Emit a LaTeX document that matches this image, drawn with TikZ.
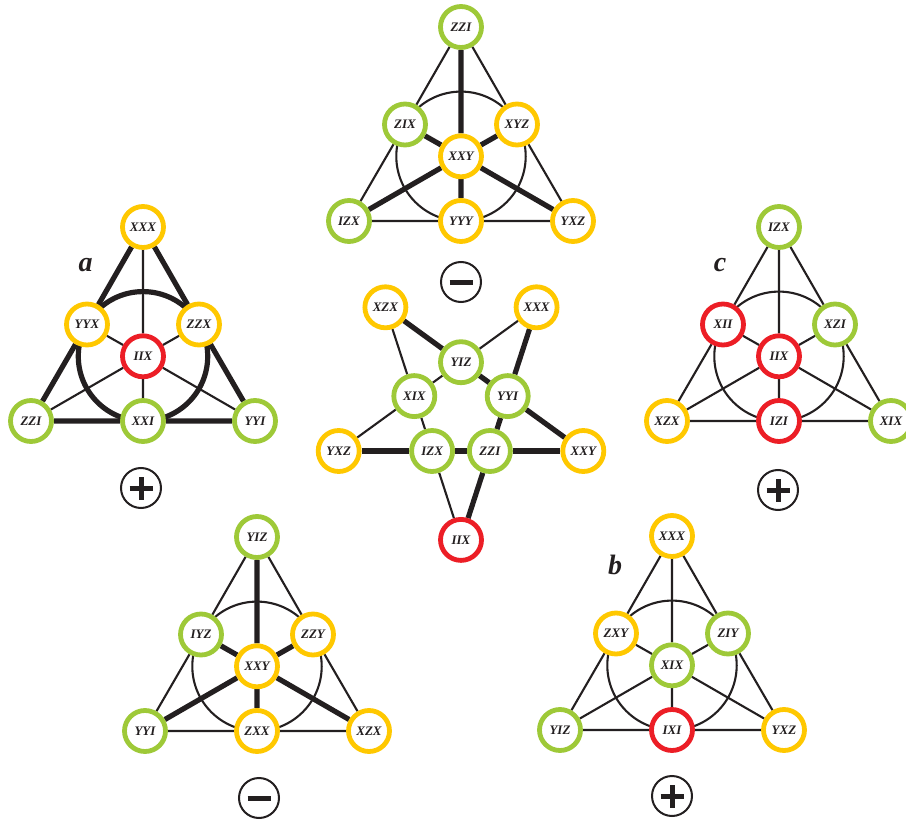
\documentclass[tikz,border=0pt]{standalone}
\usepackage{fontspec}
\setmainfont{Liberation Serif}
\usetikzlibrary{backgrounds}
\definecolor{cg}{RGB}{158,201,56}
\definecolor{cy}{RGB}{255,200,0}
\definecolor{cr}{RGB}{236,30,38}
\definecolor{ink}{RGB}{35,31,32}
\tikzset{
  nd/.style={circle, fill=white, line width=4.8pt, minimum size=41pt, inner sep=0pt,
             text=ink, font=\fontsize{13}{13}\selectfont\bfseries\itshape},
  G/.style={nd, draw=cg}, Y/.style={nd, draw=cy}, R/.style={nd, draw=cr},
  pT/.style={at={(0,0)}}, pML/.style={at={(-56,97.5)}}, pMR/.style={at={(56,97.5)}},
  pC/.style={at={(0,129.3)}}, pL/.style={at={(-112,194)}}, pMB/.style={at={(0,194)}},
  pR/.style={at={(112,194)}},
  thn/.style={line width=2.1pt, draw=ink},
  thk/.style={line width=5.2pt, draw=ink},
  sgn/.style={circle, draw=ink, line width=2pt, minimum size=40pt, inner sep=0pt},
  bar/.style={line width=5pt, draw=ink},
  lab/.style={font=\fontsize{28}{28}\selectfont\bfseries\itshape, text=ink, inner sep=0pt, anchor=base}
}
\newcommand\triedges[4]{%
  \draw[#2] (#1T) -- (#1ML) (#1ML) -- (#1L) (#1L) -- (#1MB) (#1MB) -- (#1R)
            (#1R) -- (#1MR) (#1MR) -- (#1T);
  \draw[#3] (#1T) -- (#1C) (#1C) -- (#1MB) (#1L) -- (#1C) (#1C) -- (#1MR)
            (#1R) -- (#1C) (#1C) -- (#1ML);
  \draw[#4] (#1C.center) circle[radius=64.7];}
\begin{document}
\begin{tikzpicture}[x=1pt,y=-1pt]
\useasboundingbox (0,0) rectangle (906,824);

% ---- top triangle
\begin{scope}[shift={(461,27)}]
\node[G,pT] (tT) {ZZI}; \node[G,pML] (tML) {ZIX}; \node[Y,pMR] (tMR) {XYZ};
\node[Y,pC] (tC) {XXY}; \node[G,pL] (tL) {IZX}; \node[Y,pMB] (tMB) {YYY};
\node[Y,pR] (tR) {YXZ};
\end{scope}

% ---- left triangle (a)
\begin{scope}[shift={(143,227)}]
\node[Y,pT] (aT) {XXX}; \node[Y,pML] (aML) {YYX}; \node[Y,pMR] (aMR) {ZZX};
\node[R,pC] (aC) {IIX}; \node[G,pL] (aL) {ZZI}; \node[G,pMB] (aMB) {XXI};
\node[G,pR] (aR) {YYI};
\end{scope}

% ---- right triangle (c)
\begin{scope}[shift={(779,227)}]
\node[G,pT] (cT) {IZX}; \node[R,pML] (cML) {XII}; \node[G,pMR] (cMR) {XZI};
\node[R,pC] (cC) {IIX}; \node[Y,pL] (cL) {XZX}; \node[R,pMB] (cMB) {IZI};
\node[G,pR] (cR) {XIX};
\end{scope}

% ---- bottom-left triangle
\begin{scope}[shift={(257,537)}]
\node[G,pT] (dT) {YIZ}; \node[G,pML] (dML) {IYZ}; \node[Y,pMR] (dMR) {ZZY};
\node[Y,pC] (dC) {XXY}; \node[G,pL] (dL) {YYI}; \node[Y,pMB] (dMB) {ZXX};
\node[Y,pR] (dR) {XZX};
\end{scope}

% ---- bottom-right triangle (b)
\begin{scope}[shift={(672,536)}]
\node[Y,pT] (bT) {XXX}; \node[Y,pML] (bML) {ZXY}; \node[G,pMR] (bMR) {ZIY};
\node[G,pC] (bC) {XIX}; \node[G,pL] (bL) {YIZ}; \node[R,pMB] (bMB) {IXI};
\node[Y,pR] (bR) {YXZ};
\end{scope}

% ---- pentagram
\node[Y] (pXZX) at (385.4,307.3) {XZX};
\node[Y] (pXXX) at (536.6,307.3) {XXX};
\node[Y] (pYXZ) at (338.7,451.0) {YXZ};
\node[Y] (pXXY) at (583.3,451.0) {XXY};
\node[R] (pIIX) at (461,539.9) {IIX};
\node[G] (pYIZ) at (461,362.2) {YIZ};
\node[G] (pXIX) at (414.3,396.1) {XIX};
\node[G] (pYYI) at (507.7,396.1) {YYI};
\node[G] (pIZX) at (432.1,451.0) {IZX};
\node[G] (pZZI) at (489.9,451.0) {ZZI};

\begin{pgfonlayer}{background}
  \triedges{t}{thn}{thk}{thn}
  \triedges{a}{thk}{thn}{thk}
  \triedges{c}{thn}{thn}{thn}
  \triedges{d}{thn}{thk}{thn}
  \triedges{b}{thn}{thn}{thn}
  \draw[thk] (pXZX) -- (pYIZ) (pYIZ) -- (pYYI) (pYYI) -- (pXXY);
  \draw[thn] (pXXX) -- (pYIZ) (pYIZ) -- (pXIX) (pXIX) -- (pYXZ);
  \draw[thk] (pXXX) -- (pYYI) (pYYI) -- (pZZI) (pZZI) -- (pIIX);
  \draw[thn] (pXZX) -- (pXIX) (pXIX) -- (pIZX) (pIZX) -- (pIIX);
  \draw[thk] (pYXZ) -- (pIZX) (pIZX) -- (pZZI) (pZZI) -- (pXXY);
\end{pgfonlayer}

% ---- signs
\node[sgn] (s1) at (461,282) {};
\draw[bar] ([xshift=-11.5pt]s1.center) -- ([xshift=11.5pt]s1.center);
\node[sgn] (s2) at (141,488) {};
\draw[bar] ([xshift=-11.5pt]s2.center) -- ([xshift=11.5pt]s2.center);
\draw[bar] ([yshift=-11.5pt]s2.center) -- ([yshift=11.5pt]s2.center);
\node[sgn] (s3) at (778,490) {};
\draw[bar] ([xshift=-11.5pt]s3.center) -- ([xshift=11.5pt]s3.center);
\draw[bar] ([yshift=-11.5pt]s3.center) -- ([yshift=11.5pt]s3.center);
\node[sgn] (s4) at (259,798) {};
\draw[bar] ([xshift=-11.5pt]s4.center) -- ([xshift=11.5pt]s4.center);
\node[sgn] (s5) at (672,796) {};
\draw[bar] ([xshift=-11.5pt]s5.center) -- ([xshift=11.5pt]s5.center);
\draw[bar] ([yshift=-11.5pt]s5.center) -- ([yshift=11.5pt]s5.center);

% ---- panel labels
\node[lab] (la) at (85.5,272) {a};
\node[lab] (lb) at (615,574) {b};
\node[lab] (lc) at (720,272) {c};
\end{tikzpicture}
\end{document}
